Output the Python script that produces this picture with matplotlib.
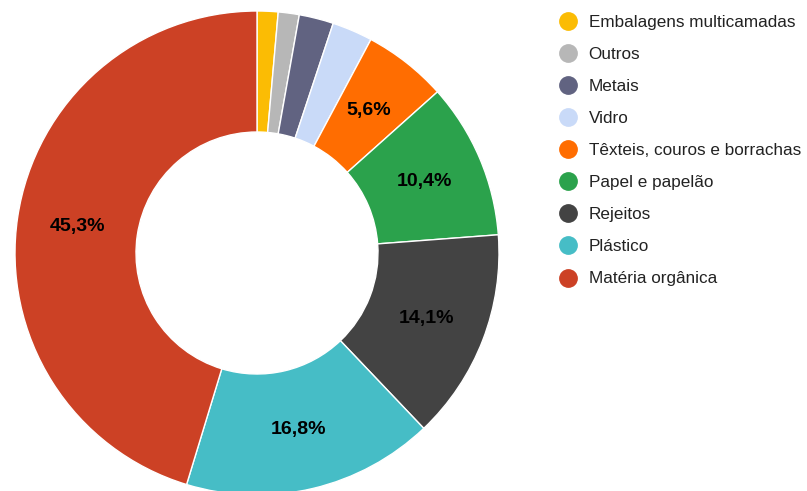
import matplotlib.pyplot as plt
from matplotlib.lines import Line2D

plt.rcParams['font.family'] = ['Liberation Sans', 'DejaVu Sans']

categorias = ['Embalagens multicamadas', 'Outros', 'Metais', 'Vidro',
              'Têxteis, couros e borrachas', 'Papel e papelão', 'Rejeitos',
              'Plástico', 'Matéria orgânica']
percentuais = [1.4, 1.4, 2.3, 2.7, 5.6, 10.4, 14.1, 16.8, 45.3]
cores = ['#fbbc04', '#b7b7b7', '#616381', '#c9daf8', '#ff6d01',
         '#2ba24c', '#434343', '#46bdc6', '#cc4125']

W, H = 807, 491
fig = plt.figure(figsize=(W / 100, H / 100), dpi=100)
ax = fig.add_axes([0, 0, 1, 1])

raio = 242


def rotulo(p):
    return f'{p:.1f}%'.replace('.', ',') if p >= 5 else ''


fatias, textos, autos = ax.pie(
    percentuais, colors=cores, startangle=90, counterclock=False,
    center=(257, H - 253), radius=raio, frame=True,
    wedgeprops=dict(width=raio * 0.5, edgecolor='white', linewidth=1),
    autopct=rotulo, pctdistance=0.75,
    textprops=dict(fontsize=14, fontweight='bold', color='black'))
ax.set_xlim(0, W)
ax.set_ylim(0, H)
ax.set_aspect('equal')
ax.axis('off')

alcas = [Line2D([], [], marker='o', linestyle='none', markersize=12.5,
                markerfacecolor=c, markeredgecolor=c) for c in cores]
leg = ax.legend(alcas, categorias, loc='upper left',
                bbox_to_anchor=(551 / W, 1 - 8 / H), frameon=False,
                fontsize=12.3, labelspacing=1.0, handletextpad=0.6,
                handlelength=1.2, borderaxespad=0)
for t in leg.get_texts():
    t.set_color('#222222')

fig.savefig('out.png', dpi=100)
